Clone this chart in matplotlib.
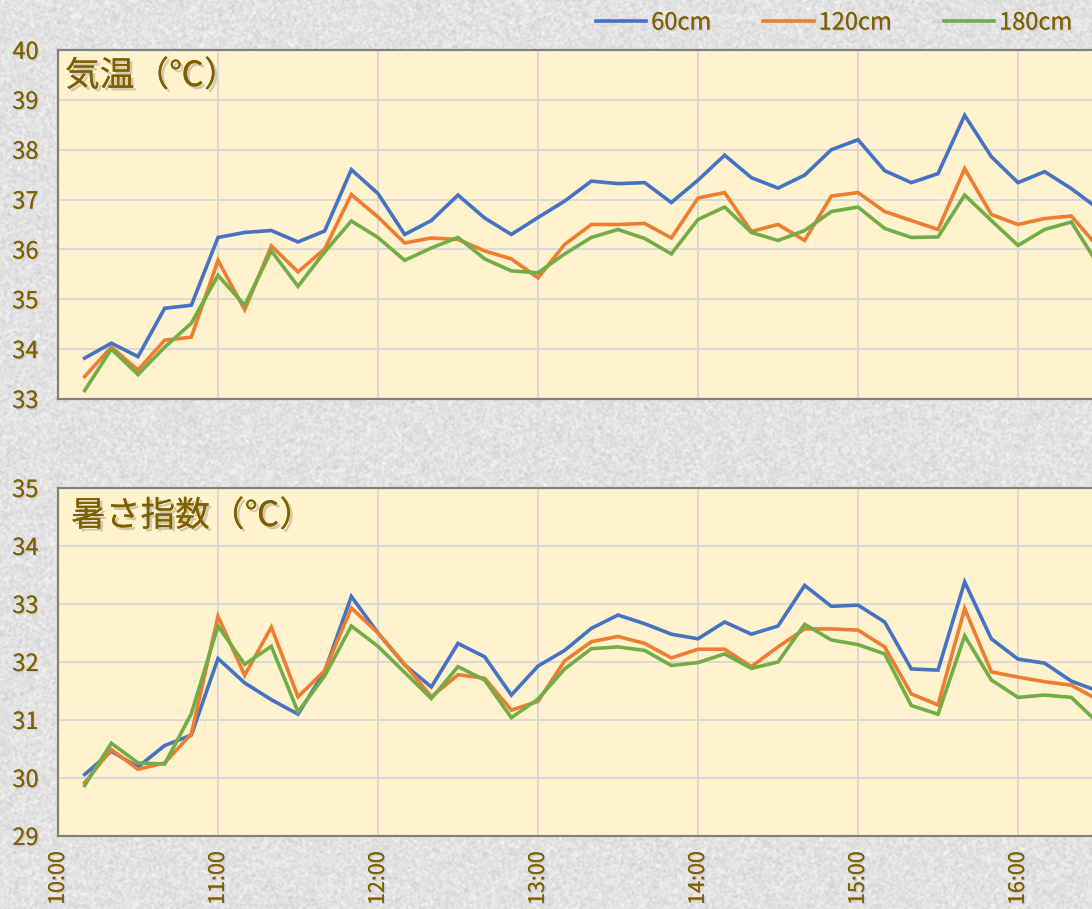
import numpy as np
import pandas as pd
import matplotlib
matplotlib.use("Agg")
import matplotlib.pyplot as plt
import matplotlib.dates as mdates
import matplotlib.patheffects as pe

plt.rcParams['font.family'] = ['Noto Sans CJK JP', 'DejaVu Sans']

# measurement times (every 10 min)
times = pd.date_range('2023-08-01 10:10', periods=39, freq='10min')
labels = ['60cm', '120cm', '180cm']
colors = ['#4472C4', '#ED7D31', '#70AD47']

# air temperature
temp60 = [33.82, 34.12, 33.85, 34.82, 34.88, 36.24, 36.34, 36.38, 36.15, 36.37, 37.60,
          37.12, 36.30, 36.58, 37.09, 36.63, 36.30, 36.64, 36.97, 37.37, 37.32,
          37.34, 36.94, 37.39, 37.89, 37.44, 37.23, 37.49, 38.00, 38.20, 37.58,
          37.34, 37.52, 38.69, 37.86, 37.34, 37.56, 37.22, 36.82]
temp120 = [33.45, 34.04, 33.58, 34.18, 34.24, 35.78, 34.79, 36.07, 35.55, 36.01, 37.10,
           36.65, 36.13, 36.23, 36.20, 35.97, 35.81, 35.43, 36.10, 36.50, 36.50,
           36.52, 36.23, 37.03, 37.14, 36.36, 36.50, 36.18, 37.07, 37.14, 36.76,
           36.58, 36.40, 37.62, 36.70, 36.50, 36.62, 36.67, 36.05]
temp180 = [33.17, 34.00, 33.49, 34.04, 34.52, 35.48, 34.88, 35.97, 35.26, 35.95, 36.57,
           36.24, 35.78, 36.03, 36.24, 35.81, 35.57, 35.53, 35.91, 36.24, 36.40,
           36.22, 35.91, 36.60, 36.85, 36.34, 36.18, 36.38, 36.76, 36.85, 36.42,
           36.24, 36.25, 37.09, 36.58, 36.08, 36.40, 36.55, 35.70]

# WBGT (heat index)
wbgt60 = [30.06, 30.46, 30.19, 30.56, 30.74, 32.06, 31.64, 31.35, 31.10, 31.84, 33.13,
          32.50, 31.95, 31.57, 32.32, 32.09, 31.43, 31.93, 32.20, 32.58, 32.81,
          32.66, 32.48, 32.40, 32.69, 32.48, 32.62, 33.32, 32.96, 32.98, 32.69,
          31.88, 31.86, 33.38, 32.40, 32.05, 31.98, 31.67, 31.50]
wbgt120 = [29.92, 30.49, 30.15, 30.26, 30.76, 32.79, 31.77, 32.60, 31.40, 31.85, 32.93,
           32.50, 31.96, 31.40, 31.78, 31.72, 31.17, 31.32, 32.02, 32.35, 32.44,
           32.32, 32.07, 32.22, 32.22, 31.92, 32.26, 32.57, 32.57, 32.55, 32.26,
           31.45, 31.26, 32.92, 31.83, 31.74, 31.66, 31.60, 31.35]
wbgt180 = [29.87, 30.60, 30.26, 30.24, 31.11, 32.62, 31.96, 32.27, 31.14, 31.76, 32.62,
           32.27, 31.82, 31.37, 31.92, 31.69, 31.04, 31.36, 31.88, 32.23, 32.26,
           32.20, 31.94, 31.99, 32.14, 31.89, 32.00, 32.65, 32.38, 32.30, 32.14,
           31.25, 31.10, 32.45, 31.69, 31.39, 31.43, 31.39, 30.95]

txt_color = '#7F6000'
W, H = 1092, 909
fig = plt.figure(figsize=(W / 100, H / 100), dpi=100)

# grey stone-like backdrop
rng = np.random.default_rng(3)
noise = rng.random((H + 4, W + 4))
k = np.ones(3) / 3
noise = np.apply_along_axis(lambda r: np.convolve(r, k, mode='same'), 1, noise)
noise = np.apply_along_axis(lambda c: np.convolve(c, k, mode='same'), 0, noise)
tex = 0.885 + (noise[2:-2, 2:-2] - 0.5) * 0.24
fig.figimage(np.clip(tex, 0, 1), cmap='gray', vmin=0, vmax=1, zorder=-10)

x0 = 58
x1 = 1112  # axes run past the right edge of the picture
start = pd.Timestamp('2023-08-01 10:00')
end = start + pd.Timedelta(hours=(x1 - x0) / 160)

shadow = [pe.withSimplePatchShadow(offset=(1.0, -1.0), shadow_rgbFace='#777777', alpha=0.2), pe.Normal()]

panels = [
    ((50, 399), [temp60, temp120, temp180], (33, 40), '気温（℃）', (7, 9)),
    ((488, 836), [wbgt60, wbgt120, wbgt180], (29, 35), '暑さ指数（℃）', (13, 11)),
]

axes = []
for (ytop, ybot), series, ylim, title, (tx, ty) in panels:
    ax = fig.add_axes([x0 / W, 1 - ybot / H, (x1 - x0) / W, (ybot - ytop) / H])
    ax.set_facecolor('#FFF2CC')
    for vals, c, lab in zip(series, colors, labels):
        ax.plot(times, vals, color=c, lw=2.6, label=lab, solid_joinstyle='miter', zorder=3)
    ax.set_xlim(start, end)
    ax.set_ylim(*ylim)
    ax.yaxis.set_major_locator(plt.MultipleLocator(1))
    ax.xaxis.set_major_locator(mdates.HourLocator())
    ax.xaxis.set_major_formatter(mdates.DateFormatter('%H:%M'))
    ax.grid(True, color='#D9D9D9', lw=1.4)
    ax.set_axisbelow(True)
    for s in ['left', 'top', 'bottom', 'right']:
        ax.spines[s].set_color('#808080')
        ax.spines[s].set_linewidth(1.6)
    ax.tick_params(axis='y', length=0, pad=14, labelsize=17, labelcolor=txt_color)
    ax.tick_params(axis='x', length=0, pad=11, labelsize=15.5, labelcolor=txt_color,
                   labelrotation=90)
    for t in ax.get_yticklabels() + ax.get_xticklabels():
        t.set_path_effects(shadow)
    ax.annotate(title, xy=(0, 1), xycoords='axes fraction', xytext=(tx * 0.72, -ty * 0.72),
                textcoords='offset points', ha='left', va='top', fontsize=25,
                color=txt_color,
                path_effects=[pe.withSimplePatchShadow(offset=(2, -2), shadow_rgbFace='#666666', alpha=0.3), pe.Normal()])
    axes.append(ax)

axes[0].tick_params(axis='x', labelbottom=False)

handles, labs = axes[0].get_legend_handles_labels()
leg = fig.legend(handles, labs, loc='center right', bbox_to_anchor=(1084 / W, 1 - 23 / H),
                 ncol=3, frameon=False, fontsize=17, handlelength=2.15, handletextpad=0.2,
                 columnspacing=2.2, borderpad=0)
for t in leg.get_texts():
    t.set_color(txt_color)
    t.set_path_effects(shadow)

fig.savefig('out.png', dpi=100)
